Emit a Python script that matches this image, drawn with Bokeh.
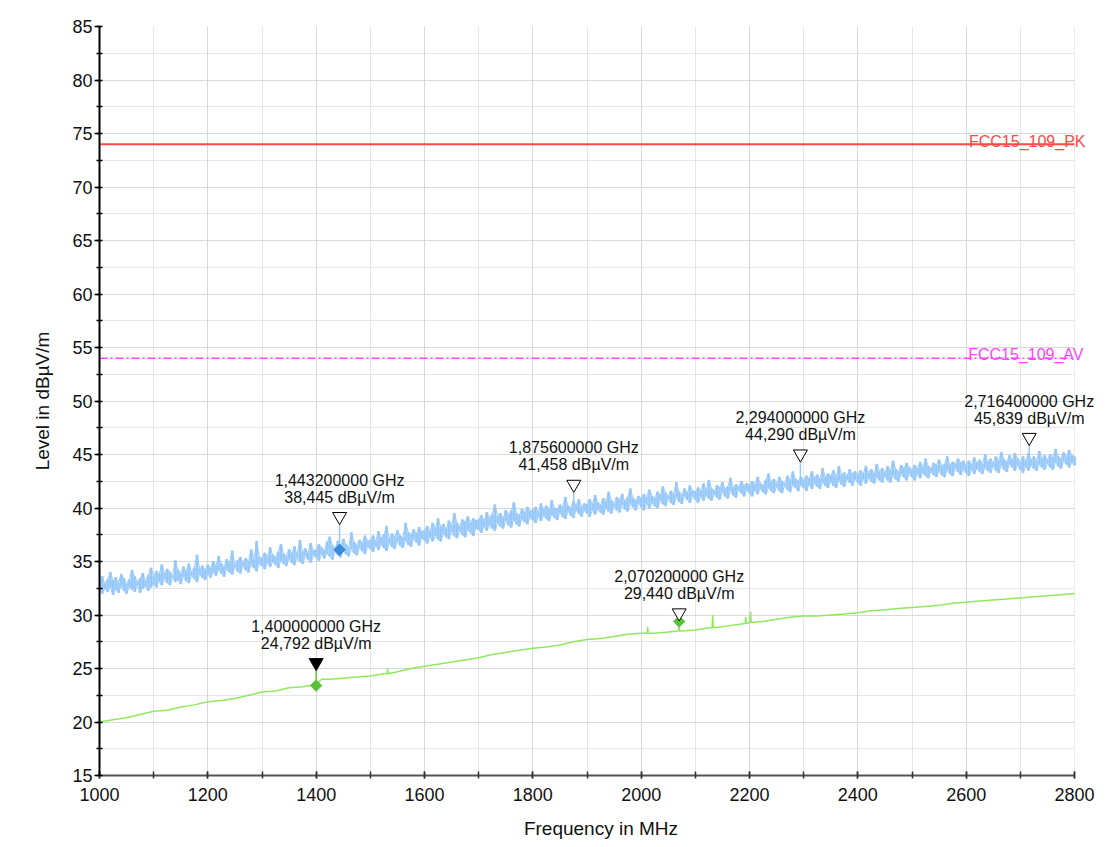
import math
from bokeh.plotting import figure
from bokeh.models import Range1d, SingleIntervalTicker, Label, LabelSet, ColumnDataSource, BoxAnnotation
from bokeh.embed import file_html
from bokeh.resources import INLINE
from bokeh.core.properties import value

# ---------------- data ----------------
# Peak trace (blue), 5 MHz bins from 1000 to 2800 MHz: max and min level per bin
peak_freq = list(range(1000, 2801, 5))
peak_max = [
    33.1, 33.6, 32.9, 33.3, 34.0, 33.2, 33.5, 33.0, 33.8, 33.4, 32.9, 33.3, 34.2, 33.6, 33.1, 33.4, 33.9, 33.2, 33.7, 34.4,
    33.6, 34.1, 33.8, 34.7, 33.9, 34.3, 34.0, 33.7, 35.1, 34.2, 33.9, 34.5, 34.1, 34.8, 34.0, 34.4, 35.6, 34.3, 34.6, 34.2,
    34.7, 34.4, 35.0, 34.6, 35.5, 34.8, 34.5, 35.2, 34.9, 36.0, 34.7, 35.1, 35.4, 34.9, 35.3, 35.0, 36.1, 35.2, 36.9, 35.4,
    35.3, 35.8, 35.5, 36.3, 35.6, 35.4, 35.9, 36.6, 35.7, 35.5, 36.1, 35.8, 36.4, 35.6, 37.0, 35.9, 36.2, 35.8, 36.7, 36.0,
    36.1, 36.6, 36.3, 36.0, 36.8, 37.3, 36.5, 36.2, 36.9, 36.4, 37.1, 36.6, 36.3, 37.7, 36.8, 36.5, 37.0, 36.7, 37.4, 36.9,
    37.0, 37.4, 36.9, 37.8, 37.2, 37.5, 38.3, 37.1, 37.6, 37.3, 37.9, 37.4, 37.2, 38.6, 37.7, 37.5, 38.0, 37.6, 38.2, 37.8,
    37.9, 38.3, 37.8, 38.6, 38.1, 39.0, 38.2, 38.5, 38.0, 38.8, 38.4, 39.5, 38.6, 38.3, 38.9, 38.7, 39.2, 38.6, 39.0, 38.8,
    38.9, 39.3, 38.8, 39.6, 39.1, 39.4, 40.3, 39.2, 39.5, 39.0, 39.8, 39.4, 39.7, 40.5, 39.5, 39.3, 39.9, 39.6, 40.1, 39.7,
    39.8, 40.1, 39.6, 40.4, 39.9, 40.2, 39.8, 40.7, 40.0, 39.9, 40.3, 40.1, 41.0, 40.2, 40.0, 40.6, 40.3, 40.8, 40.1, 40.4,
    40.3, 40.8, 40.4, 41.2, 40.5, 40.3, 40.9, 40.6, 41.5, 40.7, 40.4, 41.0, 40.8, 41.3, 40.6, 41.0, 41.8, 40.9, 40.7, 41.1,
    40.9, 41.3, 41.0, 41.7, 41.1, 40.9, 41.5, 41.2, 42.0, 41.4, 41.1, 41.6, 41.3, 42.4, 41.5, 41.2, 41.8, 41.4, 42.1, 41.6,
    41.5, 41.9, 41.6, 42.3, 41.7, 42.6, 41.8, 41.6, 42.1, 41.9, 42.4, 41.8, 42.0, 42.8, 41.9, 42.2, 42.0, 42.5, 42.1, 42.3,
    42.1, 42.5, 42.2, 42.9, 42.3, 42.1, 42.6, 43.2, 42.4, 42.7, 42.3, 42.9, 42.5, 42.3, 43.0, 42.6, 43.4, 42.7, 42.5, 42.9,
    42.6, 43.0, 42.7, 43.4, 42.8, 43.1, 42.7, 43.7, 42.9, 43.2, 43.0, 43.5, 42.9, 43.9, 43.1, 43.3, 43.0, 43.6, 43.2, 43.4,
    43.1, 43.5, 43.2, 43.9, 43.3, 43.6, 43.2, 44.1, 43.4, 43.7, 43.3, 43.9, 43.5, 44.4, 43.6, 43.4, 44.0, 43.7, 44.2, 43.8,
    43.6, 44.0, 43.7, 44.3, 43.8, 44.6, 43.9, 43.7, 44.2, 44.0, 44.5, 43.9, 44.1, 44.8, 44.0, 44.3, 44.1, 44.6, 44.2, 44.4,
    44.0, 44.4, 44.1, 44.7, 44.2, 44.5, 44.1, 45.0, 44.3, 44.6, 44.2, 44.8, 44.4, 45.2, 44.5, 44.3, 44.9, 44.5, 45.1, 44.6,
    44.3, 44.8, 44.4, 45.1, 44.5, 44.8, 44.4, 45.3, 44.6, 44.9, 44.5, 45.0, 44.7, 45.5, 44.8, 44.6, 45.2, 44.8, 45.4, 44.9,
    44.8,
]
peak_min = [
    32.3, 32.0, 32.5, 32.2, 32.6, 31.9, 32.4, 32.1, 32.7, 32.3, 32.0, 32.6, 32.4, 32.2, 32.8, 32.1, 32.5, 32.7, 32.3, 32.6,
    32.9, 32.6, 33.2, 32.8, 33.4, 33.0, 32.8, 33.5, 33.1, 33.3, 32.9, 33.6, 33.2, 33.0, 33.7, 33.4, 33.1, 33.8, 33.5, 33.3,
    33.8, 33.5, 34.0, 33.7, 34.2, 33.9, 33.6, 34.3, 34.0, 33.8, 34.5, 34.1, 33.9, 34.6, 34.2, 34.0, 34.7, 34.4, 34.1, 34.8,
    34.6, 34.3, 34.9, 34.5, 35.0, 34.7, 34.4, 35.1, 34.8, 34.6, 35.3, 34.9, 34.7, 35.4, 35.0, 34.8, 35.5, 35.2, 34.9, 35.6,
    35.4, 35.1, 35.7, 35.3, 35.8, 35.5, 35.2, 35.9, 35.6, 35.4, 36.1, 35.7, 35.5, 36.2, 35.8, 35.6, 36.3, 36.0, 35.7, 36.4,
    36.2, 35.9, 36.5, 36.1, 36.6, 36.3, 36.0, 36.7, 36.4, 36.2, 36.9, 36.5, 36.3, 37.0, 36.6, 36.4, 37.1, 36.8, 36.5, 37.2,
    37.0, 36.7, 37.3, 36.9, 37.4, 37.1, 36.9, 37.6, 37.3, 37.1, 37.8, 37.4, 37.2, 37.9, 37.5, 37.3, 38.0, 37.7, 37.4, 38.1,
    38.0, 37.7, 38.3, 37.9, 38.4, 38.1, 37.9, 38.6, 38.3, 38.1, 38.8, 38.4, 38.2, 38.9, 38.5, 38.3, 39.0, 38.7, 38.5, 39.1,
    38.9, 38.6, 39.2, 38.8, 39.3, 39.0, 38.8, 39.4, 39.1, 38.9, 39.6, 39.2, 39.0, 39.7, 39.3, 39.1, 39.8, 39.5, 39.2, 39.8,
    39.5, 39.2, 39.8, 39.4, 39.9, 39.6, 39.4, 40.0, 39.7, 39.5, 40.2, 39.8, 39.6, 40.3, 39.9, 39.7, 40.4, 40.1, 39.8, 40.4,
    40.1, 39.8, 40.4, 40.0, 40.5, 40.2, 40.0, 40.7, 40.4, 40.2, 40.9, 40.5, 40.3, 41.0, 40.6, 40.4, 41.1, 40.8, 40.5, 41.1,
    40.8, 40.5, 41.1, 40.7, 41.2, 40.9, 40.7, 41.3, 41.0, 40.8, 41.5, 41.1, 40.9, 41.6, 41.2, 41.0, 41.7, 41.4, 41.1, 41.7,
    41.4, 41.1, 41.7, 41.3, 41.8, 41.5, 41.3, 41.9, 41.6, 41.4, 42.0, 41.6, 41.4, 42.1, 41.7, 41.5, 42.2, 41.9, 41.6, 42.2,
    41.9, 41.6, 42.2, 41.8, 42.3, 42.0, 41.8, 42.4, 42.1, 41.9, 42.5, 42.1, 41.9, 42.6, 42.2, 42.0, 42.7, 42.4, 42.1, 42.7,
    42.4, 42.1, 42.7, 42.3, 42.8, 42.5, 42.3, 42.9, 42.6, 42.4, 43.0, 42.6, 42.4, 43.1, 42.7, 42.5, 43.2, 42.9, 42.6, 43.2,
    42.9, 42.6, 43.2, 42.8, 43.3, 43.0, 42.8, 43.4, 43.1, 42.9, 43.5, 43.1, 42.9, 43.6, 43.2, 43.0, 43.7, 43.4, 43.1, 43.6,
    43.3, 43.0, 43.6, 43.2, 43.7, 43.4, 43.2, 43.8, 43.5, 43.3, 43.9, 43.5, 43.3, 44.0, 43.6, 43.4, 44.1, 43.8, 43.5, 44.0,
    43.6, 43.3, 43.9, 43.5, 44.0, 43.7, 43.5, 44.1, 43.8, 43.6, 44.2, 43.8, 43.6, 44.3, 43.9, 43.7, 44.4, 44.1, 43.8, 44.3,
    44.0,
]

# Average trace (green)
avg_freq = [1000, 1025, 1050, 1075, 1100, 1125, 1150, 1175, 1200, 1225, 1250, 1275, 1300, 1325, 1350, 1375,
            1400, 1410, 1425, 1450, 1475, 1500, 1525, 1531, 1532, 1533, 1550, 1575, 1600, 1625, 1650, 1675,
            1700, 1725, 1750, 1775, 1800, 1825, 1850, 1875, 1900, 1925, 1950, 1975, 2000, 2011, 2012, 2013,
            2025, 2050, 2069, 2070, 2071, 2075, 2100, 2125, 2131, 2132, 2133, 2150, 2175, 2192, 2193, 2194,
            2201, 2202, 2203, 2225, 2250, 2275, 2300, 2325, 2350, 2375, 2400, 2425, 2450, 2475, 2500, 2525,
            2550, 2575, 2600, 2625, 2650, 2675, 2700, 2725, 2750, 2775, 2800]
avg_level = [20.0, 20.2, 20.4, 20.7, 21.0, 21.1, 21.4, 21.6, 21.9, 22.0, 22.2, 22.5, 22.8, 22.9, 23.2, 23.3,
             23.5, 24.0, 24.0, 24.1, 24.2, 24.3, 24.5, 24.5, 25.0, 24.5, 24.7, 25.0, 25.2, 25.4, 25.6, 25.8,
             26.0, 26.3, 26.5, 26.7, 26.9, 27.0, 27.2, 27.5, 27.7, 27.8, 28.0, 28.2, 28.3, 28.3, 28.9, 28.3,
             28.3, 28.4, 28.5, 29.4, 28.5, 28.5, 28.6, 28.8, 28.8, 30.0, 28.8, 28.9, 29.1, 29.2, 29.8, 29.2,
             29.3, 30.3, 29.3, 29.4, 29.6, 29.8, 29.9, 29.9, 30.0, 30.1, 30.2, 30.4, 30.5, 30.6, 30.7, 30.8,
             30.9, 31.1, 31.2, 31.3, 31.4, 31.5, 31.6, 31.7, 31.8, 31.9, 32.0]

# Limit lines
limit_names = ["FCC15_109_PK", "FCC15_109_AV"]
limit_levels = [74.0, 54.0]
limit_freq = [1000, 2800]

# Markers
mk_freq = [1400.0, 1443.2, 1875.6, 2294.0, 2716.4, 2070.2]
mk_level = [24.792, 38.445, 41.458, 44.290, 45.839, 29.440]
mk_active = [True, False, False, False, False, False]
mk_stem_bottom = [23.4, 36.1, 40.4, 42.6, 44.7, 29.4]
mk_trace = ["avg", "peak", "peak", "peak", "peak", "avg"]

# Diamonds (trace points of markers)
dia_freq = [1400.0, 1443.2, 2070.2]
dia_level = [23.4, 36.1, 29.4]
dia_trace = ["avg", "peak", "avg"]

# ---------------- styling ----------------
FONT = "Liberation Sans"
PEAK_COLOR = "#96c8fa"
AVG_COLOR = "#90e860"
PK_COLOR = "#ff4848"
AV_COLOR = "#ff44ff"
DIA_COLOR = {"avg": "#58c238", "peak": "#3a8ad8"}
STEM_COLOR = {"avg": "#5cc83c", "peak": "#96c8fa"}
GRID = "#cccccc"

X0, X1, Y0, Y1 = 1000, 2800, 15, 85
BL, BT, BB = 99, 26, 71
FRAME_W, FRAME_H = 975, 749          # pixel span of 1000..2800 MHz and 15..85 dB
EXT = 28                             # extra room right of 2800 MHz for texts
W, H = BL + FRAME_W + EXT, BT + FRAME_H + BB
X_END = X1 + EXT * (X1 - X0) / FRAME_W

p = figure(width=W, height=H, x_range=Range1d(X0, X_END), y_range=Range1d(Y0, Y1),
           output_backend="svg", toolbar_location=None,
           min_border_left=BL, min_border_right=0, min_border_top=BT, min_border_bottom=BB)
p.outline_line_color = None
p.background_fill_color = "white"
p.border_fill_color = "white"

# grids
for g in (p.xgrid, p.ygrid):
    g.grid_line_color = GRID
    g.grid_line_dash = "1 1"
    g.grid_line_width = 1
    g.minor_grid_line_color = GRID
    g.minor_grid_line_dash = "1 1"
    g.minor_grid_line_width = 1

p.xaxis.ticker = SingleIntervalTicker(interval=200, num_minor_ticks=2)
p.yaxis.ticker = SingleIntervalTicker(interval=5, num_minor_ticks=2)
p.xgrid.ticker = p.xaxis.ticker
p.ygrid.ticker = p.yaxis.ticker
p.xaxis.bounds = (X0, X1)

# hide grid beyond 2800 MHz (area reserved for texts)
p.add_layout(BoxAnnotation(left=X1, fill_color="white", fill_alpha=1.0, line_alpha=0.0, level="underlay"))

for ax in (p.xaxis, p.yaxis):
    ax.major_label_text_font = FONT
    ax.major_label_text_font_size = "18px"
    ax.major_label_text_color = "#111111"
    ax.axis_label_text_font = FONT
    ax.axis_label_text_font_size = "19px"
    ax.axis_label_text_font_style = "normal"
    ax.axis_label_text_color = "#111111"
    ax.axis_line_width = 2

p.yaxis.axis_label = "Level in dBµV/m"
p.yaxis.axis_line_color = "#000000"
p.yaxis.major_tick_line_color = "#000000"
p.yaxis.minor_tick_line_color = "#000000"
p.yaxis.major_tick_out = 5
p.yaxis.major_tick_in = 1
p.yaxis.minor_tick_out = 3
p.yaxis.minor_tick_in = 3
p.yaxis.major_tick_line_width = 1.5
p.yaxis.minor_tick_line_width = 1.5
p.yaxis.major_label_standoff = 2
p.yaxis.axis_label_standoff = 16

p.xaxis.axis_label = "Frequency in MHz"
p.xaxis.axis_line_color = "#555555"
p.xaxis.major_tick_line_color = "#333333"
p.xaxis.minor_tick_line_color = "#333333"
p.xaxis.major_tick_out = 3
p.xaxis.major_tick_in = 4
p.xaxis.minor_tick_out = 3
p.xaxis.minor_tick_in = 4
p.xaxis.major_tick_line_width = 1.5
p.xaxis.minor_tick_line_width = 1.5
p.xaxis.major_label_standoff = 9
p.xaxis.axis_label_standoff = 14

# limit lines
p.line(limit_freq, [limit_levels[0]] * 2, line_color=PK_COLOR, line_width=2)
p.line(limit_freq, [limit_levels[1]] * 2, line_color=AV_COLOR, line_width=1.5, line_dash="8 3 2 3")
p.add_layout(Label(x=limit_freq[1], y=limit_levels[0], text=limit_names[0], text_align="right",
                   text_baseline="alphabetic", x_offset=11, y_offset=3, text_color=PK_COLOR,
                   text_font=FONT, text_font_size="16px"))
p.add_layout(Label(x=limit_freq[1], y=limit_levels[1], text=limit_names[1], text_align="right",
                   text_baseline="alphabetic", x_offset=9, y_offset=4, text_color=AV_COLOR,
                   text_font=FONT, text_font_size="16px"))

# traces: peak trace drawn as min/max bins with its outline; average trace as line
p.vbar(x=peak_freq, width=4, bottom=peak_min, top=peak_max,
       fill_color=PEAK_COLOR, line_color=PEAK_COLOR, line_width=0.6)
p.line(peak_freq, peak_max, line_color=PEAK_COLOR, line_width=1.0)
p.line(peak_freq, peak_min, line_color=PEAK_COLOR, line_width=1.0)
p.line(avg_freq, avg_level, line_color=AVG_COLOR, line_width=1.5)

# marker stems
p.segment(x0=mk_freq, y0=mk_level, x1=mk_freq, y1=mk_stem_bottom,
          line_color=[STEM_COLOR[t] for t in mk_trace], line_width=1.5)

# diamonds
p.scatter(dia_freq, dia_level, marker="square", angle=math.pi / 4, size=8,
          fill_color=[DIA_COLOR[t] for t in dia_trace], line_color=[DIA_COLOR[t] for t in dia_trace])

# triangles: apex sits on the marker level
TRI = 14
px_per_db = FRAME_H / (Y1 - Y0)
apex_px = (2.0 / 3.0) * (TRI * math.sqrt(3) / 2.0)
tri_y = [lv + apex_px / px_per_db for lv in mk_level]
p.scatter(mk_freq, tri_y, marker="inverted_triangle", size=TRI,
          fill_color=["#000000" if a else "#ffffff" for a in mk_active],
          line_color="#000000", line_width=1)

# marker texts
line1 = [("%.9f GHz" % (f / 1000.0)).replace(".", ",") for f in mk_freq]
line2 = [("%.3f dBµV/m" % lv).replace(".", ",") for lv in mk_level]
src = ColumnDataSource(dict(x=mk_freq, y=mk_level, l1=line1, l2=line2))
p.add_layout(LabelSet(x="x", y="y", text="l1", source=src, text_align="center",
                      text_baseline="alphabetic", y_offset=39, text_color="#111111",
                      text_font=value(FONT), text_font_size=value("16px")))
p.add_layout(LabelSet(x="x", y="y", text="l2", source=src, text_align="center",
                      text_baseline="alphabetic", y_offset=22, text_color="#111111",
                      text_font=value(FONT), text_font_size=value("16px")))

open("out.html", "w").write(file_html(p, INLINE))
